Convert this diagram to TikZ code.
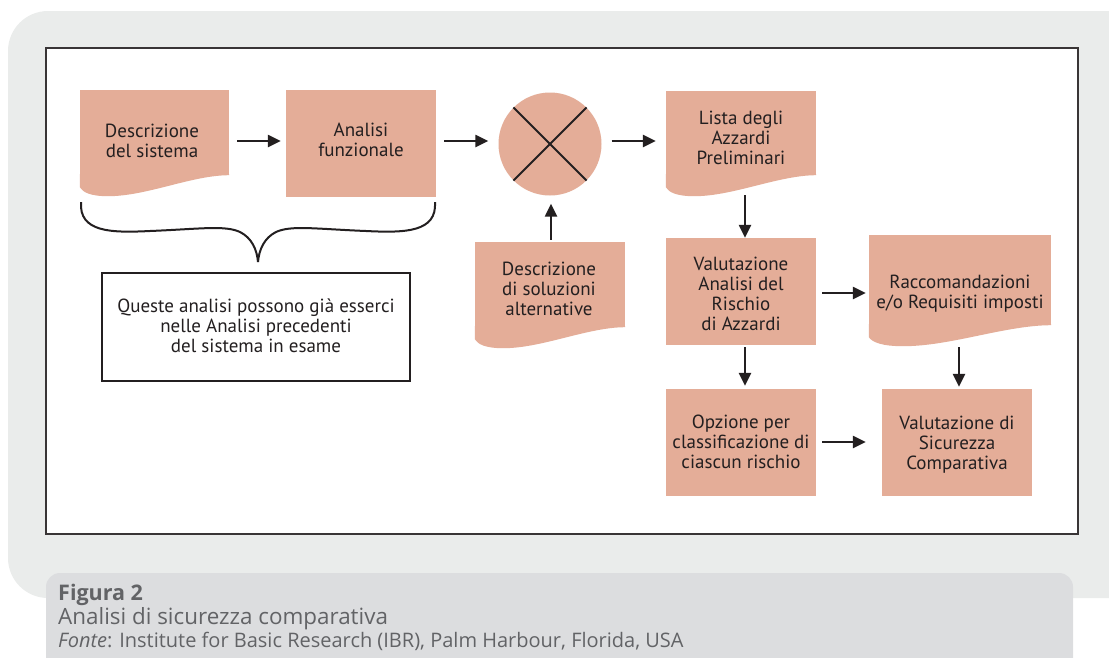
\documentclass[tikz,border=0pt]{standalone}
\usepackage{fontspec}
\usetikzlibrary{arrows.meta,calc}
\newfontfamily\diagfont{PT Sans}
\newfontfamily\capfont{Open Sans}
\definecolor{outergrey}{HTML}{EAECEB}
\definecolor{capgrey}{HTML}{DCDDDF}
\definecolor{captext}{HTML}{626366}
\definecolor{boxpink}{HTML}{E4AD98}
\definecolor{ink}{HTML}{231F20}
\tikzset{
  pinkbox/.style={rectangle, fill=boxpink, inner sep=0pt},
  txt/.style={align=center, text=ink, font=\diagfont\fontsize{19}{20}\selectfont, inner sep=0pt},
  arr/.style={draw=ink, line width=2.4pt, -{Triangle[length=13pt,width=12pt]}},
  captxt/.style={anchor=base west, inner sep=0pt, text=captext, font=\capfont\fontsize{20}{23}\selectfont}
}
\newcommand\docwave[2]{%
  \fill[boxpink] ($(#1.south east)+(0,-1)$) -- (#1.south east)
    .. controls ($(#1.south east)+({-0.25*#2},0)$) and ($(#1.south west)+({0.45*#2},21)$)
    .. ($(#1.south west)+({0.19*#2},21)$)
    .. controls ($(#1.south west)+({0.07*#2},21)$) and ($(#1.south west)+({0.02*#2},17)$)
    .. ($(#1.south west)+(0,12)$) -- ($(#1.south west)+(0,-1)$) -- cycle;}
\begin{document}
\begin{tikzpicture}[x=1pt,y=-1pt]
\useasboundingbox (0,0) rectangle (1109,657);
% backgrounds
\fill[outergrey, rounded corners=40pt] (8,11) rectangle (1150,598);
\fill[white] (46,48) rectangle (1078,534);
\draw[ink!90, line width=1.5pt] (46,48) rectangle (1078,534);
\fill[capgrey, rounded corners=14pt] (46,573) rectangle (1073,690);
% shapes
\node[pinkbox, minimum width=149pt, minimum height=85pt] (A) at (154.5,132.5) {};
\docwave{A}{149}
\node[txt] (At) at (152,140.5) {Descrizione\\del sistema};
\node[pinkbox, minimum width=150pt, minimum height=107pt] (B) at (361,143.5) {};
\node[txt] at (361,139.5) {Analisi\\funzionale};
\node[circle, fill=boxpink, minimum size=103pt, inner sep=0pt] (C) at (550,144) {};
\draw[ink, line width=2pt] (C.north west) -- (C.south east);
\draw[ink, line width=2pt] (C.north east) -- (C.south west);
\node[pinkbox, minimum width=150pt, minimum height=85pt] (D) at (550,284.5) {};
\docwave{D}{150}
\node[txt] at (549,288.5) {Descrizione\\di soluzioni\\alternative};
\node[pinkbox, minimum width=150pt, minimum height=84pt] (E) at (741,133) {};
\docwave{E}{150}
\node[txt] at (741,138) {Lista degli\\Azzardi\\Preliminari};
\node[pinkbox, minimum width=150pt, minimum height=107pt] (F) at (741,291.5) {};
\node[txt] at (741,293.5) {Valutazione\\Analisi del\\Rischio\\di Azzardi};
\node[pinkbox, minimum width=182pt, minimum height=90pt] (G) at (960,280) {};
\docwave{G}{182}
\node[txt] at (960,293.5) {Raccomandazioni\\e/o Requisiti imposti};
\node[pinkbox, minimum width=150pt, minimum height=107pt] (H) at (741,442.5) {};
\node[txt] at (741,442) {Opzione per\\classificazione di\\ciascun rischio};
\node[pinkbox, minimum width=150pt, minimum height=107pt] (I) at (957,442.5) {};
\node[txt] at (957,444.5) {Valutazione di\\Sicurezza\\Comparativa};
\node[draw=ink, line width=2.5pt, minimum width=308pt, minimum height=108pt, inner sep=0pt] (N) at (256,327) {};
\node[txt] at (256,326) {Queste analisi possono già esserci\\nelle Analisi precedenti\\del sistema in esame};
% brace
\draw[ink, line width=2pt] (81,202) .. controls (79,232) and (110,233) .. (150,231)
  .. controls (200,229) and (225,225) .. (240,232)
  .. controls (252,238) and (257,250) .. (258,262);
\draw[ink, line width=2pt] (435,202) .. controls (437,232) and (406,233) .. (366,231)
  .. controls (316,229) and (291,225) .. (276,232)
  .. controls (264,238) and (259,250) .. (258,262);
% connectors
\draw[arr, shorten <=8pt, shorten >=5pt] (A.east |- 0,141) -- (B.west |- 0,141);
\draw[arr, shorten <=8pt, shorten >=10pt] (B.east |- 0,141) -- (C.west |- 0,141);
\draw[arr, shorten <=2pt, shorten >=8pt] (D.north -| 551,0) -- (C.south -| 551,0);
\draw[arr, shorten <=10pt, shorten >=10pt] (C.east |- 0,141) -- (E.west |- 0,141);
\draw[arr, shorten <=20pt, shorten >=0pt] (E.south -| 745,0) -- (F.north -| 745,0);
\draw[arr, shorten <=6pt, shorten >=3pt] (F.east |- 0,293) -- (G.west |- 0,293);
\draw[arr, shorten <=2pt, shorten >=3pt] (F.south -| 745,0) -- (H.north -| 745,0);
\draw[arr, shorten <=22pt, shorten >=2pt] (G.south -| 959,0) -- (I.north -| 959,0);
\draw[arr, shorten <=6pt, shorten >=16pt] (H.east |- 0,442) -- (I.west |- 0,442);
% caption
\node[captxt, font=\capfont\bfseries\fontsize{21.5}{23}\selectfont] (cap1) at (58,600) {Figura 2};
\node[captxt, font=\capfont\fontsize{22.4}{23}\selectfont] (cap2) at (58,624) {Analisi di sicurezza comparativa};
\node[captxt] (cap3) at (58,647) {\textit{Fonte}: Institute for Basic Research (IBR), Palm Harbour, Florida, USA};
\end{tikzpicture}
\end{document}
